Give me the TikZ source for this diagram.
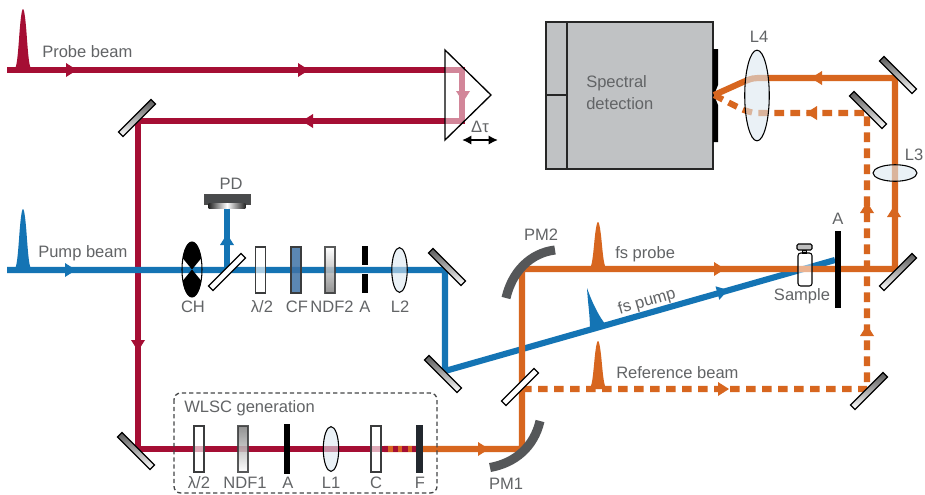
\documentclass[tikz,border=0pt]{standalone}
\usepackage{fontspec}
\setmainfont{Liberation Sans}
\usetikzlibrary{shapes.geometric,arrows.meta}
\definecolor{crim}{HTML}{A50E34}
\definecolor{blu}{HTML}{1474B4}
\definecolor{ora}{HTML}{D7661F}
\definecolor{txt}{HTML}{626466}
\definecolor{pmgray}{HTML}{555759}
\definecolor{specgray}{HTML}{C0C2C4}
\definecolor{lens}{HTML}{DCE8F0}
\definecolor{cfblue}{HTML}{3F72A6}
\definecolor{fdark}{HTML}{22282E}
\newcommand{\tip}[4]{\fill[#1,shift={(#2,#3)},rotate=#4] (-11,-7) -- (0,0) -- (-11,7) -- cycle;}
\newcommand{\pulse}[4]{\fill[#1,shift={(#2,#3)}] (-9,0) .. controls (-6,-1) and (-5,{-0.3*#4}) .. (-4,{-0.5*#4}) .. controls (-3,{-0.75*#4}) and (-1.5,{-1*#4}) .. (0,{-1*#4}) .. controls (1.5,{-1*#4}) and (3,{-0.75*#4}) .. (4,{-0.5*#4}) .. controls (5,{-0.3*#4}) and (6,-1) .. (9,0) -- cycle;}
\tikzset{
  x=.75pt,y=-.75pt,
  lab/.style={text=txt,font=\fontsize{12.4}{14}\selectfont,inner sep=0pt},
  beam/.style={line width=4.6pt,line join=miter},
  dashbeam/.style={beam,dash pattern=on 7.2pt off 4.8pt},
  mirrorbox/.style={draw=black,line width=.9pt,rectangle,minimum width=34.5pt,minimum height=4.8pt,inner sep=0pt,top color=gray!70!black,bottom color=white},
  splitbox/.style={draw=black,line width=.9pt,rectangle,minimum width=34.5pt,minimum height=4.8pt,inner sep=0pt,fill=white},
  plate/.style={draw=txt!60!black,line width=.9pt,rectangle,minimum width=7.5pt,minimum height=34.5pt,inner sep=0pt},
  lensshape/.style={draw=black,line width=.8pt,ellipse,fill=lens,fill opacity=.6,inner sep=0pt},
  block/.style={fill=black,rectangle,inner sep=0pt},
}
\begin{document}
\begin{tikzpicture}
\useasboundingbox (0,0) rectangle (925,494);
\fill[white] (0,0) rectangle (925,494);
% spectrometer
\draw[fill=specgray,draw=black!85,line width=1.1pt] (546,22) rectangle (713,169);
\draw[black!85,line width=1.1pt] (567,22) -- (567,169) (546,95) -- (567,95);
\fill[black] (713,49) -- (718,49) -- (718,85) -- (714,95) -- (718,105) -- (718,142) -- (713,142) -- cycle;
\node[lab,align=left,anchor=north west] (spec) at (586,75) {Spectral\\[2.4pt]detection};
% crimson
\draw[beam,crim] (7,70) -- (462,70) -- (462,121) -- (138,121) -- (138,449) -- (384,449);
% blue
\draw[beam,blu] (7,270) -- (445,270) -- (445,371) -- (835,260);
\draw[beam,blu] (227,270) -- (227,208);
% orange
\draw[beam,ora] (384,449) -- (522,449) -- (522,269) -- (895,269) -- (895,78) -- (770,78) -- (758,78) .. controls (750,78) and (748,80) .. (714,95);
\draw[dashbeam,ora] (522,389) -- (867,389) -- (867,113) -- (760,113) .. controls (748,113) and (745,111) .. (714,95);
\draw[line width=4.6pt,crim,dash pattern=on 3.8pt off 3.5pt] (383,449) -- (417,449);
% arrow tips
\tip{crim}{77}{70}{0}
\tip{crim}{309}{70}{0}
\tip{crim}{302}{121}{180}
\tip{crim}{463}{102}{-90}
\tip{crim}{138}{351}{-90}
\tip{blu}{76}{270}{0}
\tip{blu}{227}{234}{90}
\tip{blu}{728}{290}{16}
\tip{ora}{489}{449}{0}
\tip{ora}{725}{269}{0}
\tip{ora}{729}{389}{0}
\tip{ora}{867}{325}{90}
\tip{ora}{867}{202}{90}
\tip{ora}{894}{206}{90}
\tip{ora}{811}{78}{180}
\tip{ora}{806}{113}{180}
% pulses
\pulse{crim}{23}{70}{61}
\pulse{blu}{23}{270}{61}
\pulse{ora}{598}{269}{47}
\pulse{ora}{598}{389}{48}
\fill[blu] (587,288) .. controls (588,305) and (590,315) .. (590,330) -- (606,325) .. controls (600,318) and (593,305) .. (587,288) -- cycle;
% prism
\draw[black,fill=white,fill opacity=.5,line width=1pt,line join=miter] (445,50) -- (491,95) -- (445,140) -- cycle;
\draw[black,line width=1.5pt,{Latex[length=7pt,width=7pt]}-{Latex[length=7pt,width=7pt]}] (462,140) -- (498,140);
\node[lab] (dt) at (480,127) {Δτ};
% mirrors
\node[mirrorbox,rotate=45] (m1) at (137,118) {};
\node[mirrorbox,rotate=-45] (m2) at (447,267) {};
\node[mirrorbox,rotate=-45] (m3) at (443,374) {};
\node[mirrorbox,rotate=-45] (m4) at (136,451) {};
\node[mirrorbox,rotate=45] (m5) at (869,391) {};
\node[mirrorbox,rotate=45] (m6) at (898,272) {};
\node[mirrorbox,rotate=-45] (m7) at (898,75) {};
\node[mirrorbox,rotate=-45] (m8) at (868,110) {};
\node[splitbox,rotate=45] (bs1) at (227,272) {};
\node[splitbox,rotate=45] (bs2) at (520,387) {};
% chopper
\begin{scope}
\clip (192,269.5) ellipse [x radius=10,y radius=27.5];
\fill[black] (192,269.5) -- (172,245) -- (172,235) -- (212,235) -- (212,245) -- cycle;
\fill[black] (192,269.5) -- (172,294) -- (172,304) -- (212,304) -- (212,294) -- cycle;
\end{scope}
\draw[black,line width=.8pt] (192,269.5) ellipse [x radius=10,y radius=27.5];
% PD
\node[rectangle,fill=pmgray!85!black,draw=black!70,line width=.5pt,minimum width=34.5pt,minimum height=7.5pt,inner sep=0pt] (pdtop) at (227,199) {};
\node[rectangle,left color=black!85,right color=black!85,middle color=white,minimum width=27.5pt,minimum height=3.2pt,inner sep=0pt] (pdlow) at (227,206) {};
% plates pump
\node[plate,fill=white,fill opacity=.65] (hw2) at (260.5,270) {};
\node[plate,fill=cfblue,fill opacity=.85] (cf) at (296,270) {};
\node[plate,top color=white,bottom color=gray,opacity=.85] (ndf2) at (330,270) {};
\node[block,minimum width=4.6pt,minimum height=14.2pt] (a2a) at (365,255.5) {};
\node[block,minimum width=4.6pt,minimum height=14.2pt] (a2b) at (365,283.5) {};
\node[lensshape,minimum width=11.6pt,minimum height=33.6pt] (l2) at (399.5,270) {};
% plates WLSC
\node[plate,fill=white,fill opacity=.65] (hw1) at (199,449) {};
\node[plate,top color=gray,bottom color=white,opacity=.85] (ndf1) at (243,449) {};
\node[block,minimum width=4.6pt,minimum height=37.5pt] (a1) at (287,449) {};
\node[lensshape,minimum width=11.6pt,minimum height=33.6pt] (l1) at (331,449) {};
\node[plate,fill=white,fill opacity=.65] (c) at (376,449) {};
\node[plate,fill=fdark,draw=fdark,minimum width=5pt] (f) at (419.5,449) {};
% PMs
\draw[pmgray,line width=6.8pt] (490,467.5) .. controls (515,463) and (534,447) .. (540,421);
\draw[pmgray,line width=6.8pt] (555,250) .. controls (530,253) and (512,272) .. (506,298);
% sample and right aperture
\node[block,minimum width=4.6pt,minimum height=58pt] (a3) at (838,269.5) {};
\draw[black,line width=.8pt,fill=white,fill opacity=.5,rounded corners=2pt] (798,253) rectangle (812,286);
\draw[black,line width=.8pt,fill=lightgray] (802.5,250) rectangle (806.5,253);
\draw[black,line width=.8pt,fill=lightgray,rounded corners=1pt] (797,244) rectangle (812,250);
% L3 L4
\node[lensshape,minimum width=33pt,minimum height=12.4pt] (l3) at (895,173) {};
\node[lensshape,minimum width=18.4pt,minimum height=68pt] (l4) at (757,95.5) {};
% WLSC box
\draw[txt!70!black,line width=1pt,dash pattern=on 3.2pt off 2.2pt,rounded corners=5pt] (174,393) rectangle (437,493);
% labels
\node[lab,anchor=west] (t1) at (42,52) {Probe beam};
\node[lab,anchor=west] (t2) at (38,253) {Pump beam};
\node[lab] (t3) at (231,184) {PD};
\node[lab] (t4) at (193,307) {CH};
\node[lab] (t5) at (262,307) {λ/2};
\node[lab] (t6) at (297,307) {CF};
\node[lab] (t7) at (332,307) {NDF2};
\node[lab] (t8) at (365,307) {A};
\node[lab] (t9) at (400,307) {L2};
\node[lab,anchor=west] (t10) at (184,408) {WLSC generation};
\node[lab] (t11) at (199,483) {λ/2};
\node[lab] (t12) at (245,483) {NDF1};
\node[lab] (t13) at (288,483) {A};
\node[lab] (t14) at (331,483) {L1};
\node[lab] (t15) at (376,483) {C};
\node[lab] (t16) at (420,483) {F};
\node[lab] (t17) at (506,484) {PM1};
\node[lab] (t18) at (541,235) {PM2};
\node[lab,anchor=west] (t19) at (615,254) {fs probe};
\node[lab,rotate=16] (t20) at (647,302) {fs pump};
\node[lab,anchor=west] (t21) at (616,373) {Reference beam};
\node[lab] (t22) at (802,296) {Sample};
\node[lab] (t23) at (838,219) {A};
\node[lab] (t24) at (914,155) {L3};
\node[lab] (t25) at (759,37) {L4};
\end{tikzpicture}
\end{document}
